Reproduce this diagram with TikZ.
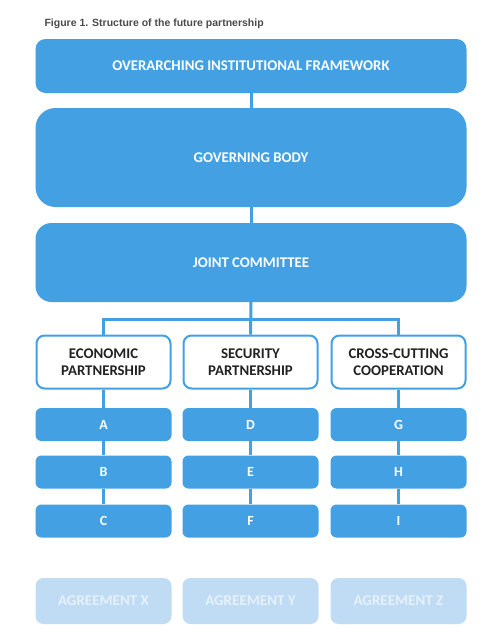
\documentclass[tikz,border=0pt]{standalone}
\usepackage{fontspec}
\setmainfont{Carlito}
\newfontfamily\titlefont{Liberation Sans}
\definecolor{mainblue}{HTML}{42A0E3}
\definecolor{lightblue}{HTML}{BFDCF4}
\definecolor{lighttext}{HTML}{E6F1FB}
\definecolor{titlegray}{HTML}{4A4A4A}
\definecolor{darktext}{HTML}{222222}
\begin{document}
\begin{tikzpicture}[x=1pt,y=-1pt,
  solidbox/.style={draw=none,fill=mainblue,rounded corners=8pt,text=white,font=\bfseries\fontsize{14.8}{17}\selectfont,inner sep=0pt,align=center},
  outbox/.style={draw=mainblue,line width=2pt,fill=white,rounded corners=8pt,text=darktext,font=\bfseries\fontsize{14.8}{17.5}\selectfont,inner sep=0pt,align=center},
  agreebox/.style={draw=none,fill=lightblue,rounded corners=8pt,text=lighttext,font=\bfseries\fontsize{15}{17}\selectfont,inner sep=0pt,align=center},
  link/.style={draw=mainblue,line width=3pt}]
\useasboundingbox (0,0) rectangle (489,643);
\node[anchor=west,font=\titlefont\bfseries\fontsize{10.5}{12}\selectfont,text=titlegray] (title) at (41,24) {Figure 1. Structure of the future partnership};
% top boxes
\node[solidbox,minimum width=431pt,minimum height=54pt,rounded corners=10pt] (oif) at (251,66) {OVERARCHING INSTITUTIONAL FRAMEWORK};
\node[solidbox,minimum width=431pt,minimum height=99pt,rounded corners=20pt] (gov) at (251,157.5) {GOVERNING BODY};
\node[solidbox,minimum width=431pt,minimum height=79pt,rounded corners=16pt] (jc) at (251,262.5) {JOINT COMMITTEE};
% partnership boxes
\node[outbox,minimum width=134pt,minimum height=53pt] (ep) at (103.5,362) {ECONOMIC\\PARTNERSHIP};
\node[outbox,minimum width=134pt,minimum height=53pt] (sp) at (250.5,362) {SECURITY\\PARTNERSHIP};
\node[outbox,minimum width=134pt,minimum height=53pt] (cc) at (398.5,362) {CROSS-CUTTING\\COOPERATION};
% items
\foreach \n/\x/\y in {A/103.5/424.5,B/103.5/472,C/103.5/521,D/250.5/424.5,E/250.5/472,F/250.5/521,G/398.5/424.5,H/398.5/472,I/398.5/521}{
  \node[solidbox,minimum width=136pt,minimum height=33pt,rounded corners=6pt,font=\bfseries\fontsize{14}{16}\selectfont] (\n) at (\x,\y) {\n};
}
% agreements
\node[agreebox,minimum width=136pt,minimum height=46pt] (ax) at (103.5,601) {AGREEMENT X};
\node[agreebox,minimum width=136pt,minimum height=46pt] (ay) at (250.5,601) {AGREEMENT Y};
\node[agreebox,minimum width=136pt,minimum height=46pt] (az) at (398.5,601) {AGREEMENT Z};
% connectors
\coordinate (bus) at (251,319);
\draw[link] (oif.south) -- (gov.north);
\draw[link] (gov.south) -- (jc.north);
\draw[link] (jc.south) -- (sp.north);
\draw[link,line join=miter] (ep.north) |- (bus) -| (cc.north);
\draw[link] (ep.south) -- (A.north);
\draw[link] (A.south) -- (B.north);
\draw[link] (B.south) -- (C.north);
\draw[link] (sp.south) -- (D.north);
\draw[link] (D.south) -- (E.north);
\draw[link] (E.south) -- (F.north);
\draw[link] (cc.south) -- (G.north);
\draw[link] (G.south) -- (H.north);
\draw[link] (H.south) -- (I.north);
\end{tikzpicture}
\end{document}
